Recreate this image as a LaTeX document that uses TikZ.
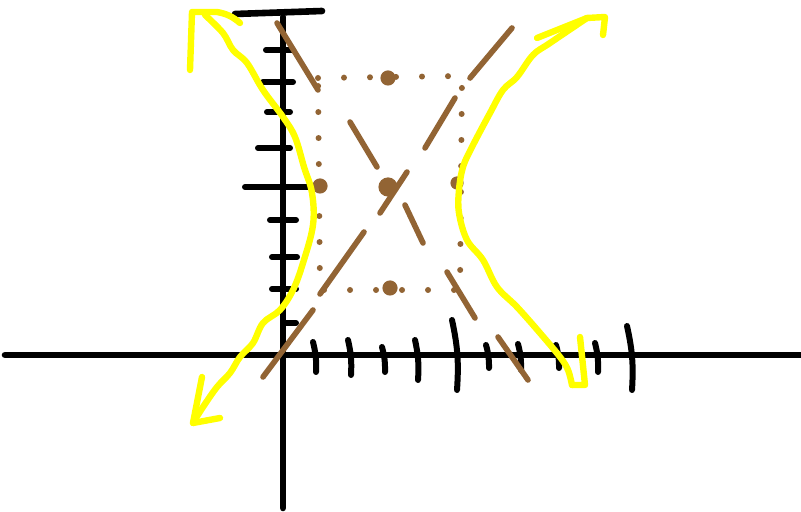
\documentclass[tikz,border=0pt]{standalone}
\usepackage{xcolor}
\definecolor{skbrown}{RGB}{146,100,52}
\definecolor{skyellow}{RGB}{255,255,0}
\usetikzlibrary{calc}
\tikzset{
  axisline/.style={draw=black, line width=3.3pt, line cap=round},
  tickmark/.style={draw=black, line width=3pt, line cap=round},
  asym/.style={draw=skbrown, line width=2.8pt, line cap=round},
  boxdots/.style={draw=skbrown, line width=3pt, line cap=round,
                  dash pattern=on 0pt off 13pt},
  branch/.style={draw=skyellow, line width=3.2pt, line cap=round, line join=round},
}

\begin{document}
\begin{tikzpicture}[x=0.5pt, y=-0.5pt]
  \useasboundingbox (0,0) rectangle (801,512);

  % Axes
  \draw[axisline] (5,355) -- (801,355);
  \draw[axisline] (283,17) -- (283,508);
  \draw[axisline] (235,14) -- (322,11);

  % Ticks on the y axis
  \foreach \ty/\xa/\xb in {50/266/293, 82/263/293, 112/267/290, 148/258/290,
                           220/270/296, 257/272/297, 289/272/296, 323/283/296}
    \draw[tickmark] (\xa,\ty) -- (\xb,\ty);
  \draw[tickmark] (245,187) -- (310,187);

  % Ticks on the x axis
  \foreach \tx/\ya/\yb in {315/342/372, 350/340/375, 384/347/372, 417/340/380,
                           488/345/368, 520/344/370, 558/345/368, 597/343/372}
    \draw[tickmark] (\tx-2,\ya) to[bend left=8] (\tx+1,\yb);
  \draw[tickmark] (452,320) to[bend left=8] (457,390);
  \draw[tickmark] (627,326) to[bend left=8] (632,390);

  % Box through the vertices
  \draw[boxdots] (318,78) -- (462,76) -- (460,290) -- (320,290) -- cycle;
  \fill[skbrown] (388,78) circle[radius=3.8pt];
  \fill[skbrown] (390,288) circle[radius=3.8pt];
  \fill[skbrown] (320,186) circle[radius=3.8pt];
  \fill[skbrown] (457,183) circle[radius=3.3pt];
  \fill[skbrown] (388,187) circle[radius=4.8pt];

  % Asymptotes
  \draw[asym] (263,377) -- (313,310);
  \draw[asym] (320,294) -- (364,232);
  \draw[asym] (380,213) -- (407,172);
  \draw[asym] (425,148) -- (455,98);
  \draw[asym] (470,78) -- (512,28);
  \draw[asym] (277,23) -- (318,90);
  \draw[asym] (350,122) -- (377,167);
  \draw[asym] (405,205) -- (423,243);
  \draw[asym] (447,272) -- (475,318);
  \draw[asym] (498,337) -- (528,380);

  % Left branch
  \draw[branch] plot[smooth, tension=0.6] coordinates {
    (205,15) (223,33) (233,50) (247,63) (263,90) (283,117) (295,137)
    (304,167) (312,193) (313,225) (303,263) (293,290) (280,310) (263,323)
    (253,343) (240,357) (230,373) (217,387) (203,407) (193,423)};
  \draw[branch] (190,70) -- (192,12) -- (217,12) to[bend left=15] (240,23);
  \draw[branch] (202,377) -- (193,423) -- (220,418);

  % Right branch
  \draw[branch] plot[smooth, tension=0.6] coordinates {
    (587,18) (550,43) (533,55) (517,77) (503,90) (490,113) (472,147)
    (463,167) (459,190) (459,213) (467,240) (483,260) (497,287) (517,307)
    (540,333) (560,357) (568,370) (572,385)};
  \draw[branch] (537,38) -- (587,18) -- (605,17) -- (603,35);
  \draw[branch] (572,385) -- (585,385) -- (580,337);
\end{tikzpicture}
\end{document}
